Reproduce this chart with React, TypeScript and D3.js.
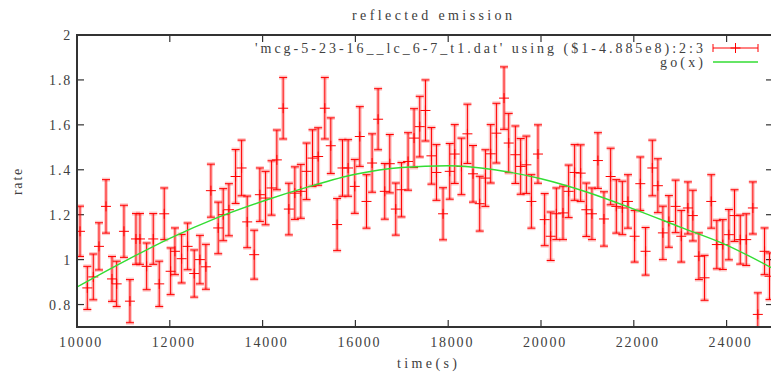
import React from "react";
import * as d3 from "d3";

const times = [
  10065, 10222, 10351, 10474, 10625, 10754, 10855, 11012, 11141, 11271,
  11357, 11501, 11643, 11772, 11880, 12018, 12111, 12255, 12384, 12526,
  12649, 12778, 12886, 13043, 13151, 13274, 13418, 13547, 13668, 13819,
  13941, 14064, 14193, 14307, 14443, 14566, 14695, 14824, 14947, 15076,
  15197, 15341, 15470, 15606, 15722, 15843, 15987, 16095, 16239, 16360,
  16489, 16633, 16741, 16870, 16993, 17135, 17264, 17387, 17510, 17639,
  17747, 17889, 18033, 18141, 18285, 18414, 18535, 18679, 18802, 18916,
  19039, 19203, 19304, 19448, 19562, 19685, 19793, 19935, 20079, 20209,
  20331, 20474, 20596, 20725, 20855, 20977, 21098, 21227, 21357, 21501,
  21623, 21753, 21874, 22018, 22140, 22254, 22399, 22519, 22627, 22756,
  22901, 23023, 23166, 23273, 23403, 23525, 23669, 23790, 23919, 24049,
  24171, 24294, 24423, 24566, 24673, 24818, 24925,
];

const rates = [
  1.126, 0.874, 0.923, 1.059, 1.237, 0.914, 0.892, 1.126, 0.815, 1.092,
  1.092, 0.970, 1.092, 0.892, 1.204, 0.948, 1.037, 1.004, 1.059, 0.938,
  1.000, 0.968, 1.307, 1.141, 1.200, 1.222, 1.370, 1.408, 1.168, 1.022,
  1.289, 1.274, 1.319, 1.444, 1.674, 1.225, 1.296, 1.304, 1.393, 1.452,
  1.459, 1.674, 1.507, 1.156, 1.408, 1.408, 1.326, 1.548, 1.259, 1.430,
  1.625, 1.304, 1.427, 1.225, 1.311, 1.437, 1.541, 1.592, 1.664, 1.462,
  1.388, 1.204, 1.393, 1.470, 1.415, 1.560, 1.382, 1.249, 1.363, 1.471,
  1.563, 1.719, 1.519, 1.467, 1.415, 1.422, 1.259, 1.470, 1.178, 1.104,
  1.204, 1.208, 1.304, 1.388, 1.385, 1.222, 1.204, 1.441, 1.181, 1.370,
  1.237, 1.230, 1.259, 1.104, 1.338, 1.037, 1.408, 1.329, 1.119, 1.170,
  1.237, 1.104, 1.230, 1.196, 1.015, 0.919, 1.259, 1.067, 1.067, 1.111,
  1.196, 1.089, 1.089, 1.230, 0.756, 1.037, 0.926,
];

const errors = [
  0.112, 0.096, 0.102, 0.105, 0.119, 0.100, 0.101, 0.116, 0.096, 0.113,
  0.113, 0.104, 0.113, 0.101, 0.115, 0.104, 0.104, 0.108, 0.104, 0.105,
  0.108, 0.100, 0.118, 0.115, 0.116, 0.116, 0.120, 0.124, 0.115, 0.109,
  0.119, 0.119, 0.121, 0.133, 0.137, 0.115, 0.117, 0.120, 0.126, 0.126,
  0.128, 0.137, 0.124, 0.116, 0.126, 0.126, 0.120, 0.133, 0.119, 0.130,
  0.136, 0.124, 0.130, 0.116, 0.121, 0.128, 0.131, 0.135, 0.136, 0.126,
  0.124, 0.116, 0.124, 0.131, 0.126, 0.132, 0.126, 0.122, 0.126, 0.130,
  0.133, 0.139, 0.132, 0.128, 0.124, 0.128, 0.119, 0.130, 0.116, 0.108,
  0.115, 0.119, 0.117, 0.124, 0.126, 0.119, 0.115, 0.124, 0.121, 0.126,
  0.119, 0.119, 0.119, 0.115, 0.119, 0.106, 0.124, 0.120, 0.119, 0.115,
  0.117, 0.115, 0.116, 0.113, 0.104, 0.100, 0.119, 0.108, 0.111, 0.112,
  0.115, 0.109, 0.115, 0.116, 0.096, 0.104, 0.104,
];

const fitTimes = [10000, 11000, 12000, 13000, 14000, 15000, 16000, 17000, 18000, 19000, 20000, 21000, 22000, 23000, 24000, 25000];
const fitValues = [0.878, 0.99, 1.095, 1.185, 1.26, 1.325, 1.38, 1.41, 1.418, 1.40, 1.36, 1.30, 1.225, 1.145, 1.065, 0.96];

const xTicks = [10000, 12000, 14000, 16000, 18000, 20000, 22000, 24000];
const yTicks = [0.8, 1, 1.2, 1.4, 1.6, 1.8, 2];

const titleText = "reflected emission";
const xLabel = "time(s)";
const yLabel = "rate";
const legendData = "'mcg-5-23-16__lc_6-7_t1.dat' using ($1-4.885e8):2:3";
const legendFit = "go(x)";

const W = 771;
const H = 374;
const L = 77, R = 773, T = 35, B = 327;
const FONT = "'Liberation Serif', 'DejaVu Serif', serif";
const TXT = "#404040";
const AX = "#333333";
const RED = "#ff0000";
const PINK = "rgba(255,0,0,0.22)";
const GREEN = "#33dd33";

export default function App() {
  const x = d3.scaleLinear().domain([10000, 25000]).range([L, R]);
  const y = d3.scaleLinear().domain([0.7, 2]).range([B, T]);
  const line = d3
    .line<number>()
    .x((_, i) => x(fitTimes[i]))
    .y((v) => y(v))
    .curve(d3.curveMonotoneX);
  const fitPath = line(fitValues) || "";
  const cap = 4;
  const plus = 5;
  const tickLen = 7;

  const errBar = (cx: number, cy: number, y0: number, y1: number, key: string) => (
    <g key={key}>
      <g stroke={PINK} strokeWidth={4}>
        <line x1={cx} x2={cx} y1={y0} y2={y1} />
        <line x1={cx - cap} x2={cx + cap} y1={y0} y2={y0} />
        <line x1={cx - cap} x2={cx + cap} y1={y1} y2={y1} />
      </g>
      <g stroke={RED} strokeWidth={1}>
        <line x1={cx} x2={cx} y1={y0} y2={y1} />
        <line x1={cx - cap} x2={cx + cap} y1={y0} y2={y0} />
        <line x1={cx - cap} x2={cx + cap} y1={y1} y2={y1} />
        <line x1={cx - plus} x2={cx + plus} y1={cy} y2={cy} />
        <line x1={cx} x2={cx} y1={cy - plus} y2={cy + plus} />
      </g>
    </g>
  );

  return (
    <svg
      width={W}
      height={H}
      style={{ position: "absolute", left: 0, top: 0, background: "#fff" }}
      fontFamily={FONT}
    >
      <defs>
        <clipPath id="plotclip">
          <rect x={L} y={T} width={R - L} height={B - T} />
        </clipPath>
      </defs>
      <rect x={0} y={0} width={W} height={H} fill="#fff" />

      {/* ticks */}
      <g stroke={AX} strokeWidth={1.2}>
        {xTicks.map((t) => (
          <g key={"xt" + t}>
            <line x1={x(t)} x2={x(t)} y1={B} y2={B - tickLen} />
            <line x1={x(t)} x2={x(t)} y1={T} y2={T + tickLen} />
          </g>
        ))}
        {yTicks.map((t) => (
          <g key={"yt" + t}>
            <line x1={L} x2={L + tickLen} y1={y(t)} y2={y(t)} />
            <line x1={R} x2={R - tickLen} y1={y(t)} y2={y(t)} />
          </g>
        ))}
      </g>

      {/* tick labels */}
      <g fill={TXT} fontSize={14} letterSpacing={1.8}>
        {xTicks.map((t) => (
          <text key={"xl" + t} x={x(t) + 4} y={347} textAnchor="middle">
            {String(t)}
          </text>
        ))}
        {yTicks.map((t) => (
          <text key={"yl" + t} x={72} y={y(t) + 5} textAnchor="end">
            {String(t)}
          </text>
        ))}
      </g>

      {/* axis titles */}
      <g fill={TXT} fontSize={14}>
        <text x={352} y={20} textLength={160} lengthAdjust="spacing">{titleText}</text>
        <text x={397} y={368} textLength={60} lengthAdjust="spacing">{xLabel}</text>
        <text transform={`translate(22,${(T + B) / 2}) rotate(-90)`} textAnchor="middle" letterSpacing={1.8}>
          {yLabel}
        </text>
      </g>

      {/* data */}
      <g clipPath="url(#plotclip)">
        {times.map((t, i) =>
          errBar(x(t), y(rates[i]), y(rates[i] + errors[i]), y(rates[i] - errors[i]), "p" + i)
        )}
        <path d={fitPath} fill="none" stroke={GREEN} strokeWidth={1.4} />
      </g>

      {/* legend */}
      <g fill={TXT} fontSize={14}>
        <text x={255} y={53} textLength={448} lengthAdjust="spacing">{legendData}</text>
        <text x={660} y={67} textLength={43} lengthAdjust="spacing">{legendFit}</text>
      </g>
      <g stroke={RED} strokeWidth={1}>
        <line x1={713} x2={758} y1={48} y2={48} />
        <line x1={713} x2={713} y1={44} y2={52} />
        <line x1={758} x2={758} y1={44} y2={52} />
        <line x1={735.5 - plus} x2={735.5 + plus} y1={48} y2={48} />
        <line x1={735.5} x2={735.5} y1={48 - plus} y2={48 + plus} />
      </g>
      <line x1={713} x2={758} y1={62} y2={62} stroke={GREEN} strokeWidth={1.4} />

      {/* border */}
      <rect x={L} y={T} width={R - L} height={B - T} fill="none" stroke={AX} strokeWidth={2} />
    </svg>
  );
}
